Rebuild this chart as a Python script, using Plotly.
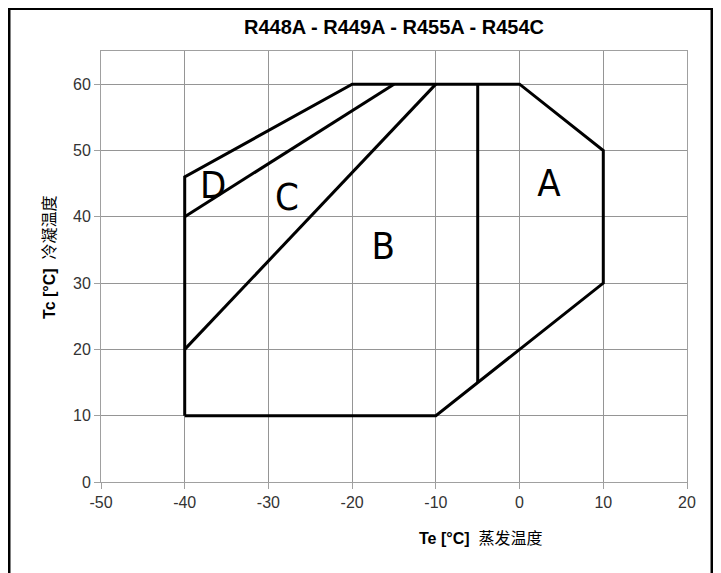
import plotly.graph_objects as go

# envelope outline (Te, Tc)
outline_te = [-40, -10, 10, 10, 0, -20, -40, -40]
outline_tc = [10, 10, 30, 50, 60, 60, 46, 10]

# internal dividing lines
cd_te = [-40, -15]
cd_tc = [40, 60]
bc_te = [-40, -10]
bc_tc = [20, 60]
ab_te = [-5, -5]
ab_tc = [15, 60]

# region labels
zone_names = ["A", "B", "C", "D"]
zone_te = [3.5, -16.3, -27.8, -36.6]
zone_tc = [44.5, 35.0, 42.5, 44.3]

x_ticks = [-50, -40, -30, -20, -10, 0, 10, 20]
y_ticks = [0, 10, 20, 30, 40, 50, 60]

fig = go.Figure()

line_style = dict(color="black", width=3)
for xs, ys in [(outline_te, outline_tc), (cd_te, cd_tc), (bc_te, bc_tc), (ab_te, ab_tc)]:
    fig.add_trace(go.Scatter(x=xs, y=ys, mode="lines", line=line_style,
                             showlegend=False, hoverinfo="skip"))

fig.add_trace(go.Scatter(
    x=zone_te, y=zone_tc, mode="text", text=zone_names,
    textfont=dict(family="DejaVu Sans Condensed, Liberation Sans, sans-serif", size=38, color="black"),
    showlegend=False, hoverinfo="skip"))

axis_common = dict(
    showgrid=True, gridcolor="#959595", gridwidth=1,
    showline=True, linecolor="#a0a0a0", linewidth=1, mirror=True,
    ticks="outside", ticklen=6, tickcolor="#a0a0a0",
    zeroline=False,
    tickfont=dict(family="Liberation Sans, Arial, sans-serif", size=16, color="#333333"),
)

fig.update_xaxes(range=[-50, 20], tickvals=x_ticks, ticktext=[str(v) for v in x_ticks], **axis_common)
fig.update_yaxes(range=[0, 65], tickvals=y_ticks, ticktext=[str(v) for v in y_ticks], **axis_common)

# page body keeps an 8px margin, so the figure is 8px smaller than the window
fig.update_layout(
    width=713, height=565,
    margin=dict(l=93, r=34, t=43, b=91),
    plot_bgcolor="white", paper_bgcolor="white",
    title=dict(text="<b>R448A - R449A - R455A - R454C</b>",
               x=0.5, xref="paper", y=1 - 19 / 565, yanchor="middle",
               font=dict(family="Liberation Sans, Arial, sans-serif", size=20, color="black")),
    annotations=[
        dict(text="<b>Te [°C]</b>  蒸发温度", xref="paper", yref="paper",
             x=0.647, y=-0.132, xanchor="center", yanchor="middle", showarrow=False,
             font=dict(family="Liberation Sans, Noto Sans CJK SC, sans-serif", size=16, color="black")),
        dict(text="<b>Tc [°C]</b>  冷凝温度", xref="paper", yref="paper",
             x=-0.087, y=0.52, xanchor="center", yanchor="middle", showarrow=False, textangle=-90,
             font=dict(family="Liberation Sans, Noto Sans CJK SC, sans-serif", size=16, color="black")),
    ],
    shapes=[
        dict(type="rect", xref="paper", yref="paper",
             x0=-0.157, x1=1.0427, y0=-0.22, y1=1.0986,
             line=dict(color="black", width=3), layer="above"),
    ],
)

fig.write_html("out.html")
